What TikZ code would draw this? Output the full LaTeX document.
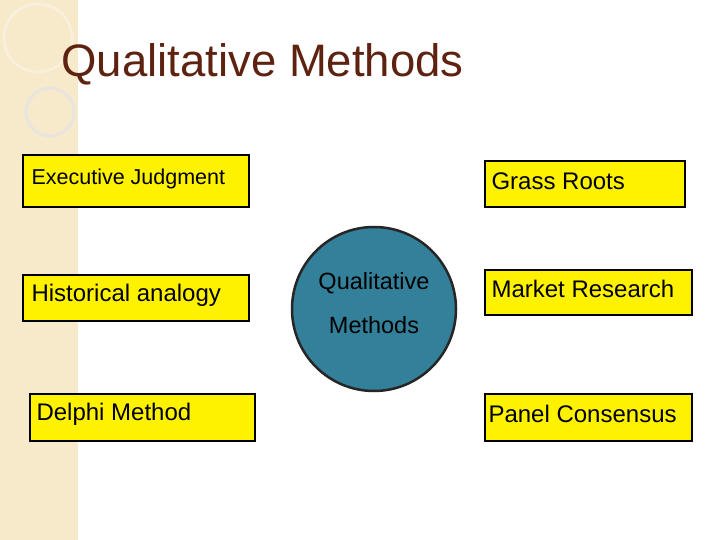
\documentclass[tikz,border=0pt]{standalone}
\usepackage{fontspec}
\setmainfont{Liberation Sans}
\definecolor{band}{HTML}{F6EACB}
\definecolor{ttl}{HTML}{5E2210}
\definecolor{disc}{HTML}{33809A}
\begin{document}
\begin{tikzpicture}[x=1pt,y=-1pt,
  ybox/.style={draw=black,line width=2.5pt,fill=yellow},
  lbl/.style={anchor=west,font=\fontsize{24}{26}\selectfont}]
\useasboundingbox (0,0) rectangle (720,540);
\fill[white] (0,0) rectangle (720,540);
\fill[band] (0,0) rectangle (78,540);
\draw[band!60!gray!40, line width=3pt] (50,112) circle (24);
\draw[band!70!white, line width=3pt] (38,38) circle (34);
\node[anchor=west,text=ttl,font=\fontsize{45.5}{48}\selectfont] (title) at (58,64) {Qualitative Methods};
\draw[ybox] (23,155) rectangle (249,207);
\node[lbl,anchor=north west,font=\fontsize{21.5}{24}\selectfont] (tej) at (28,165) {Executive Judgment};
\draw[ybox] (485,161) rectangle (685,207);
\node[lbl] (tgr) at (488,181) {Grass Roots};
\draw[ybox] (23,275) rectangle (249,321);
\node[lbl] (tha) at (28,295) {Historical analogy};
\draw[ybox] (485,270) rectangle (692,315);
\node[lbl] (tmr) at (488,289) {Market Research};
\draw[ybox] (30,394) rectangle (255,441);
\node[lbl] (tdm) at (33,414) {Delphi Method};
\draw[ybox] (485,394) rectangle (692,441);
\node[lbl] (tpc) at (485,414) {Panel Consensus};
\node[circle,draw=black!85,line width=2.5pt,fill=disc,minimum size=164pt,inner sep=0pt] (c) at (374,309) {};
\node[lbl,anchor=center,font=\fontsize{23.5}{26}\selectfont] (q1) at (374,283) {Qualitative};
\node[lbl,anchor=center,font=\fontsize{23.5}{26}\selectfont] (q2) at (374,325) {Methods};
\end{tikzpicture}
\end{document}
